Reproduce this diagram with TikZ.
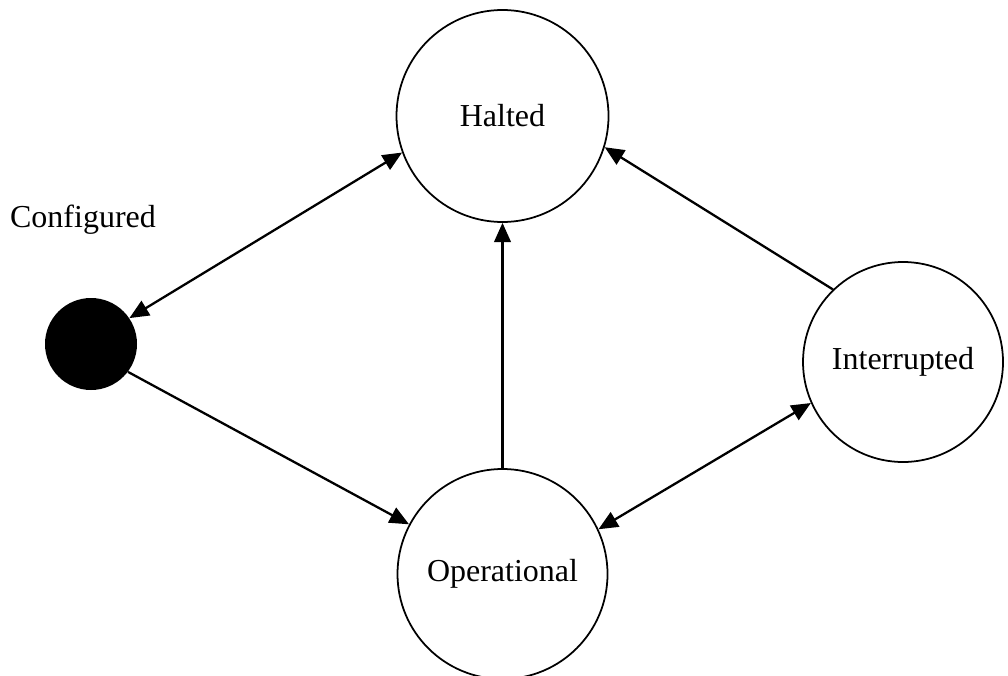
\documentclass[tikz,border=0pt]{standalone}
\usepackage{fontspec}
\setmainfont{Liberation Serif}
\usetikzlibrary{arrows.meta}
\tikzset{state/.style = {draw, circle, line width = 1pt, inner sep = 0,
                         font = \fontsize{18.2}{20}\selectfont}}
\tikzset{start/.style = {fill, circle, inner sep = 0, minimum size = 1.84cm}}
\tikzset{link/.style = {line width = 1.3pt, -{Triangle[length=11pt, width=9.5pt]}}}
\tikzset{twoway/.style = {line width = 1.3pt,
                          {Triangle[length=11pt, width=9.5pt]}-{Triangle[length=11pt, width=9.5pt]}}}

\begin{document}
\begin{tikzpicture}
          \useasboundingbox (0, 0) rectangle (20.16, 13.5);
          \node [state, minimum size = 4.24cm] (halted) at (10.05, 11.18) {Halted};
          \node [state, minimum size = 4.2cm] (operational) at (10.05, 2.02) {Operational};
          \node [state, minimum size = 4cm] (interrupted) at (18.06, 6.26) {Interrupted};
          \node [start] (dot) at (1.82, 6.62) {};
          \node [font = \fontsize{18.2}{20}\selectfont] (configured) at (1.66, 9.1) {Configured};

          \draw [twoway] (dot.34) -- (halted.200);
          \draw [link] (dot.-37) -- (operational.152);
          \draw [link] (operational) -- (halted);
          \draw [link] (interrupted.134) -- (halted.-17);
          \draw [twoway] (interrupted.204) -- (operational.25);
        \end{tikzpicture}
\end{document}
